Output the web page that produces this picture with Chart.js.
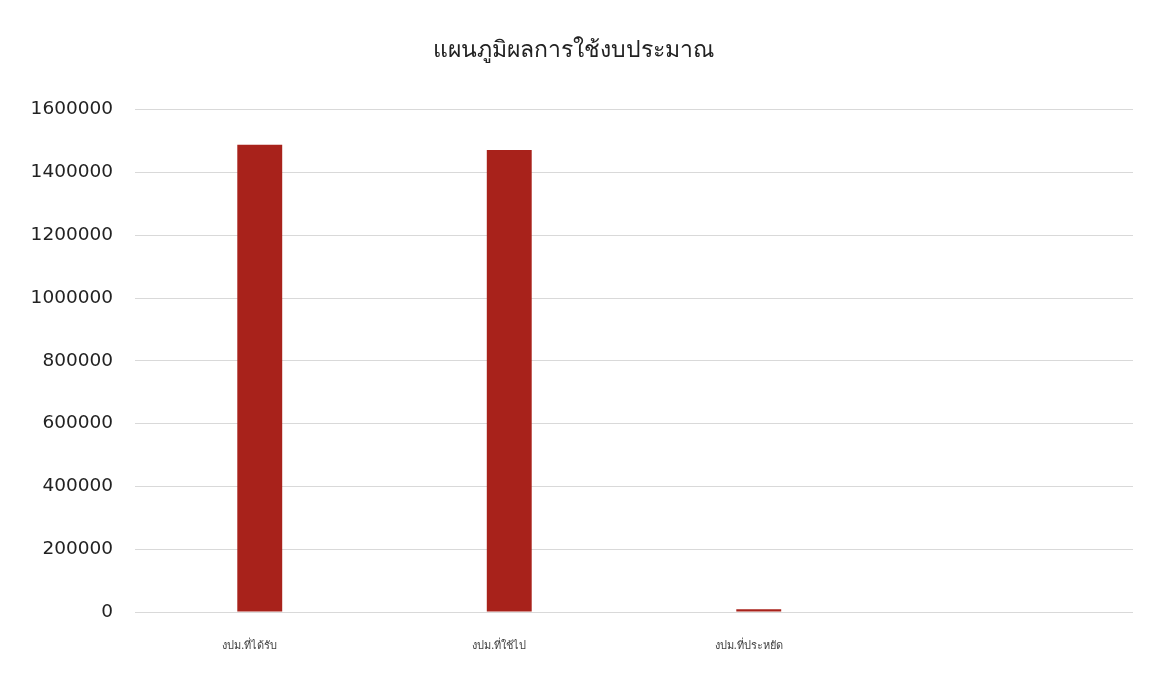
<!DOCTYPE html>
<html>
<head>
<meta charset="utf-8">
<script src="https://cdn.jsdelivr.net/npm/chart.js@4"></script>
<style>
  html, body { margin: 0; padding: 0; background: #fff; }
  #box { width: 1157px; height: 676px; }
</style>
</head>
<body>
<div id="box"><canvas id="grafico"></canvas></div>
<script>
const categorias = ["งปม.ที่ได้รับ", "งปม.ที่ใช้ไป", "งปม.ที่ประหยัด", ""]
const valores = [1488000, 1471000, 9000, null]
const ticksY = [0, 200000, 400000, 600000, 800000, 1000000, 1200000, 1400000, 1600000]

window.onload = () => {
    var grf = document.getElementById("grafico").getContext("2d");

    var data = {
        labels: categorias,
        datasets: [{
            data: valores,
            backgroundColor: "#a8221b",
            categoryPercentage: 1,
            barPercentage: 0.18
        }]
    };

    var options = {
        responsive: true,
        maintainAspectRatio: false,
        animation: false,
        layout: { padding: { left: 14, right: 24, bottom: 0 } },
        plugins: {
            legend: { display: false },
            tooltip: { enabled: false },
            title: {
                display: true,
                text: "แผนภูมิผลการใช้งบประมาณ",
                color: "#222",
                font: { family: "Noto Sans", size: 23, weight: "normal" },
                padding: { top: 37, bottom: 45 }
            }
        },
        scales: {
            x: {
                grid: { display: false },
                border: { display: false },
                ticks: {
                    color: "#444",
                    font: { family: "Noto Sans", size: 11 },
                    padding: 19,
                    labelOffset: -10,
                    maxRotation: 0
                },
                afterFit: (s) => { s.height = 64 }
            },
            y: {
                min: 0,
                max: 1600000,
                afterBuildTicks: (s) => { s.ticks = ticksY.map(v => ({ value: v })) },
                grid: { color: "#d9d9d9", drawTicks: false },
                border: { display: false },
                ticks: {
                    color: "#222",
                    font: { family: "DejaVu Sans", size: 18.5 },
                    padding: 22,
                    callback: (v) => String(v)
                },
                afterFit: (s) => { s.width = 121 }
            }
        }
    };

    new Chart(grf, {
        type: 'bar',
        data: data,
        options: options
    });
}
</script>
</body>
</html>
